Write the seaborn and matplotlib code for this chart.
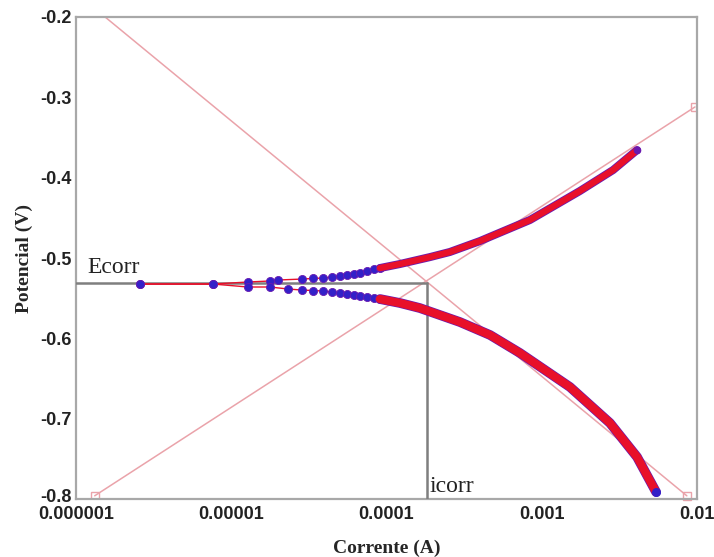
import numpy as np
import pandas as pd
import matplotlib
matplotlib.use("Agg")
import matplotlib.pyplot as plt
from matplotlib.ticker import FixedLocator, NullFormatter, LogLocator
import matplotlib.transforms as mtransforms
import seaborn as sns

# ---------------- data ----------------
# sparse measured points near Ecorr (visible individual dots)
anodic_dot_I = [2.58e-6, 7.62e-6, 1.28e-5, 1.78e-5, 2.00e-5, 2.86e-5, 3.36e-5, 3.90e-5,
                4.46e-5, 5.01e-5, 5.57e-5, 6.18e-5, 6.74e-5, 7.48e-5, 8.31e-5, 9.08e-5]
anodic_dot_E = [-0.5324, -0.5324, -0.5299, -0.5286, -0.5274, -0.5262, -0.5255, -0.5249,
                -0.5237, -0.5224, -0.5212, -0.5199, -0.5187, -0.5162, -0.5137, -0.5125]
cathodic_dot_I = [2.58e-6, 7.62e-6, 1.28e-5, 1.78e-5, 2.32e-5, 2.86e-5, 3.36e-5, 3.90e-5,
                  4.46e-5, 5.01e-5, 5.57e-5, 6.18e-5, 6.74e-5, 7.48e-5, 8.31e-5, 9.08e-5]
cathodic_dot_E = [-0.5324, -0.5324, -0.5361, -0.5361, -0.5386, -0.5399, -0.5405, -0.5411,
                  -0.5423, -0.5436, -0.5448, -0.5461, -0.5473, -0.5486, -0.5498, -0.5511]

# dense part of the curves (continuous band)
anodic_band_I = [9.08e-5, 1.22e-4, 1.91e-4, 2.56e-4, 4.0e-4, 8.39e-4, 1.76e-3, 2.88e-3, 4.11e-3]
anodic_band_E = [-0.5125, -0.5075, -0.4988, -0.4925, -0.4789, -0.4527, -0.4166, -0.3905, -0.3656]
cathodic_band_I = [9.08e-5, 1.22e-4, 1.64e-4, 2.97e-4, 4.65e-4, 7.24e-4, 1.52e-3, 2.75e-3, 4.11e-3, 5.45e-3]
cathodic_band_E = [-0.5511, -0.5560, -0.5623, -0.5797, -0.5959, -0.6183, -0.6606, -0.7054, -0.7477, -0.7913]

# Tafel fit lines (end points)
tafel_a_I = [1.32e-6, 9.7e-3]
tafel_a_E = [-0.796, -0.312]
tafel_c_I = [1.54e-6, 8.6e-3]
tafel_c_E = [-0.200, -0.796]

Ecorr = -0.531
icorr = 1.82e-4

xtick_vals = [1e-6, 1e-5, 1e-4, 1e-3, 1e-2]
xtick_labels = ["0.000001", "0.00001", "0.0001", "0.001", "0.01"]
ytick_vals = [-0.8, -0.7, -0.6, -0.5, -0.4, -0.3, -0.2]
ytick_labels = ["-0.8", "-0.7", "-0.6", "-0.5", "-0.4", "-0.3", "-0.2"]

# ---------------- plotting ----------------
sns.set_style("white")
plt.rcParams['font.family'] = ['Liberation Sans', 'DejaVu Sans']

fig = plt.figure(figsize=(7.14, 5.57), dpi=100)
ax = fig.add_axes([0.1064, 0.1041, 0.8698, 0.8654])

pink = "#eaa3aa"
red = "#e8102a"
blue = "#3320c8"
purple = "#6a1ab0"
grey = "#7f7f7f"

# Tafel lines
sns.lineplot(x=tafel_a_I, y=tafel_a_E, ax=ax, color=pink, lw=1.1, sort=False,
             marker="s", markersize=6, markerfacecolor="none", markeredgecolor=pink,
             markeredgewidth=1.0, zorder=2)
sns.lineplot(x=tafel_c_I, y=tafel_c_E, ax=ax, color=pink, lw=1.1, sort=False, zorder=2)
ax.plot([tafel_c_I[1]], [tafel_c_E[1]], ls="none", marker="s", markersize=6,
        markerfacecolor="none", markeredgecolor=pink, markeredgewidth=1.0, zorder=2, clip_on=False)

# Ecorr / icorr guide lines
ax.plot([1e-6, icorr], [Ecorr, Ecorr], color=grey, lw=1.8, zorder=3)
ax.plot([icorr, icorr], [Ecorr, -0.8], color=grey, lw=1.8, zorder=3)

# curves: thin connecting line + dots
for I, E in [(anodic_dot_I, anodic_dot_E), (cathodic_dot_I, cathodic_dot_E)]:
    df = pd.DataFrame({"I": I, "E": E})
    sns.lineplot(data=df, x="I", y="E", ax=ax, color=red, lw=1.0, sort=False, zorder=4)
    sns.scatterplot(data=df, x="I", y="E", ax=ax, color=blue, s=34, edgecolor=purple,
                    linewidth=0.6, zorder=5)

# dense bands
dfa = pd.DataFrame({"I": anodic_band_I, "E": anodic_band_E})
dfc = pd.DataFrame({"I": cathodic_band_I, "E": cathodic_band_E})
sns.lineplot(data=dfa, x="I", y="E", ax=ax, color=purple, lw=5.8, sort=False, zorder=5)
sns.lineplot(data=dfa, x="I", y="E", ax=ax, color=red, lw=4.6, sort=False, zorder=6)
sns.lineplot(data=dfc, x="I", y="E", ax=ax, color=purple, lw=7.0, sort=False, zorder=5)
sns.lineplot(data=dfc, x="I", y="E", ax=ax, color=red, lw=6.0, sort=False, zorder=6)
ax.scatter([cathodic_band_I[-1]], [cathodic_band_E[-1]], s=30, color=blue, zorder=7)
ax.scatter([anodic_band_I[-1]], [anodic_band_E[-1]], s=20, color=purple, zorder=7)

ax.set_xscale("log")
ax.set_xlim(1e-6, 1e-2)
ax.set_ylim(-0.8, -0.2)

ax.xaxis.set_major_locator(FixedLocator(xtick_vals))
ax.set_xticklabels(xtick_labels)
ax.xaxis.set_minor_locator(LogLocator(base=10, subs=np.arange(2, 10)))
ax.xaxis.set_minor_formatter(NullFormatter())
ax.yaxis.set_major_locator(FixedLocator(ytick_vals))
ax.set_yticklabels(ytick_labels)
ax.yaxis.set_minor_locator(FixedLocator([-0.75, -0.65, -0.55, -0.45, -0.35, -0.25]))

ax.tick_params(axis="both", which="major", direction="in", length=4, width=1,
               color="#a8a8a8", labelsize=13, pad=3)
ax.tick_params(axis="x", which="major", pad=5)
ax.tick_params(axis="both", which="minor", direction="in", length=3, width=1, color="#a8a8a8")
for lab in ax.get_xticklabels() + ax.get_yticklabels():
    lab.set_fontweight("bold")
    lab.set_color("#222222")

# nudge the lowest y label up a little so it does not collide with the x labels
ylabs = ax.get_yticklabels()
ylabs[0].set_transform(ylabs[0].get_transform() +
                       mtransforms.ScaledTranslation(0, 4 / 100, fig.dpi_scale_trans))

for sp in ax.spines.values():
    sp.set_color("#a8a8a8")
    sp.set_linewidth(1.6)

serif = ["Liberation Serif", "DejaVu Serif"]
ax.set_xlabel("Corrente (A)", fontsize=14, fontweight="bold", family=serif, labelpad=12)
ax.set_ylabel("Potencial (V)", fontsize=14, fontweight="bold", family=serif, labelpad=5)

ax.text(1.18e-6, -0.5187, "Ecorr", fontsize=17, family=serif, color="#222222",
        ha="left", va="baseline", zorder=8)
ax.text(1.9e-4, -0.7914, "icorr", fontsize=17, family=serif, color="#222222",
        ha="left", va="baseline", zorder=8)

fig.savefig("out.png", dpi=100)
